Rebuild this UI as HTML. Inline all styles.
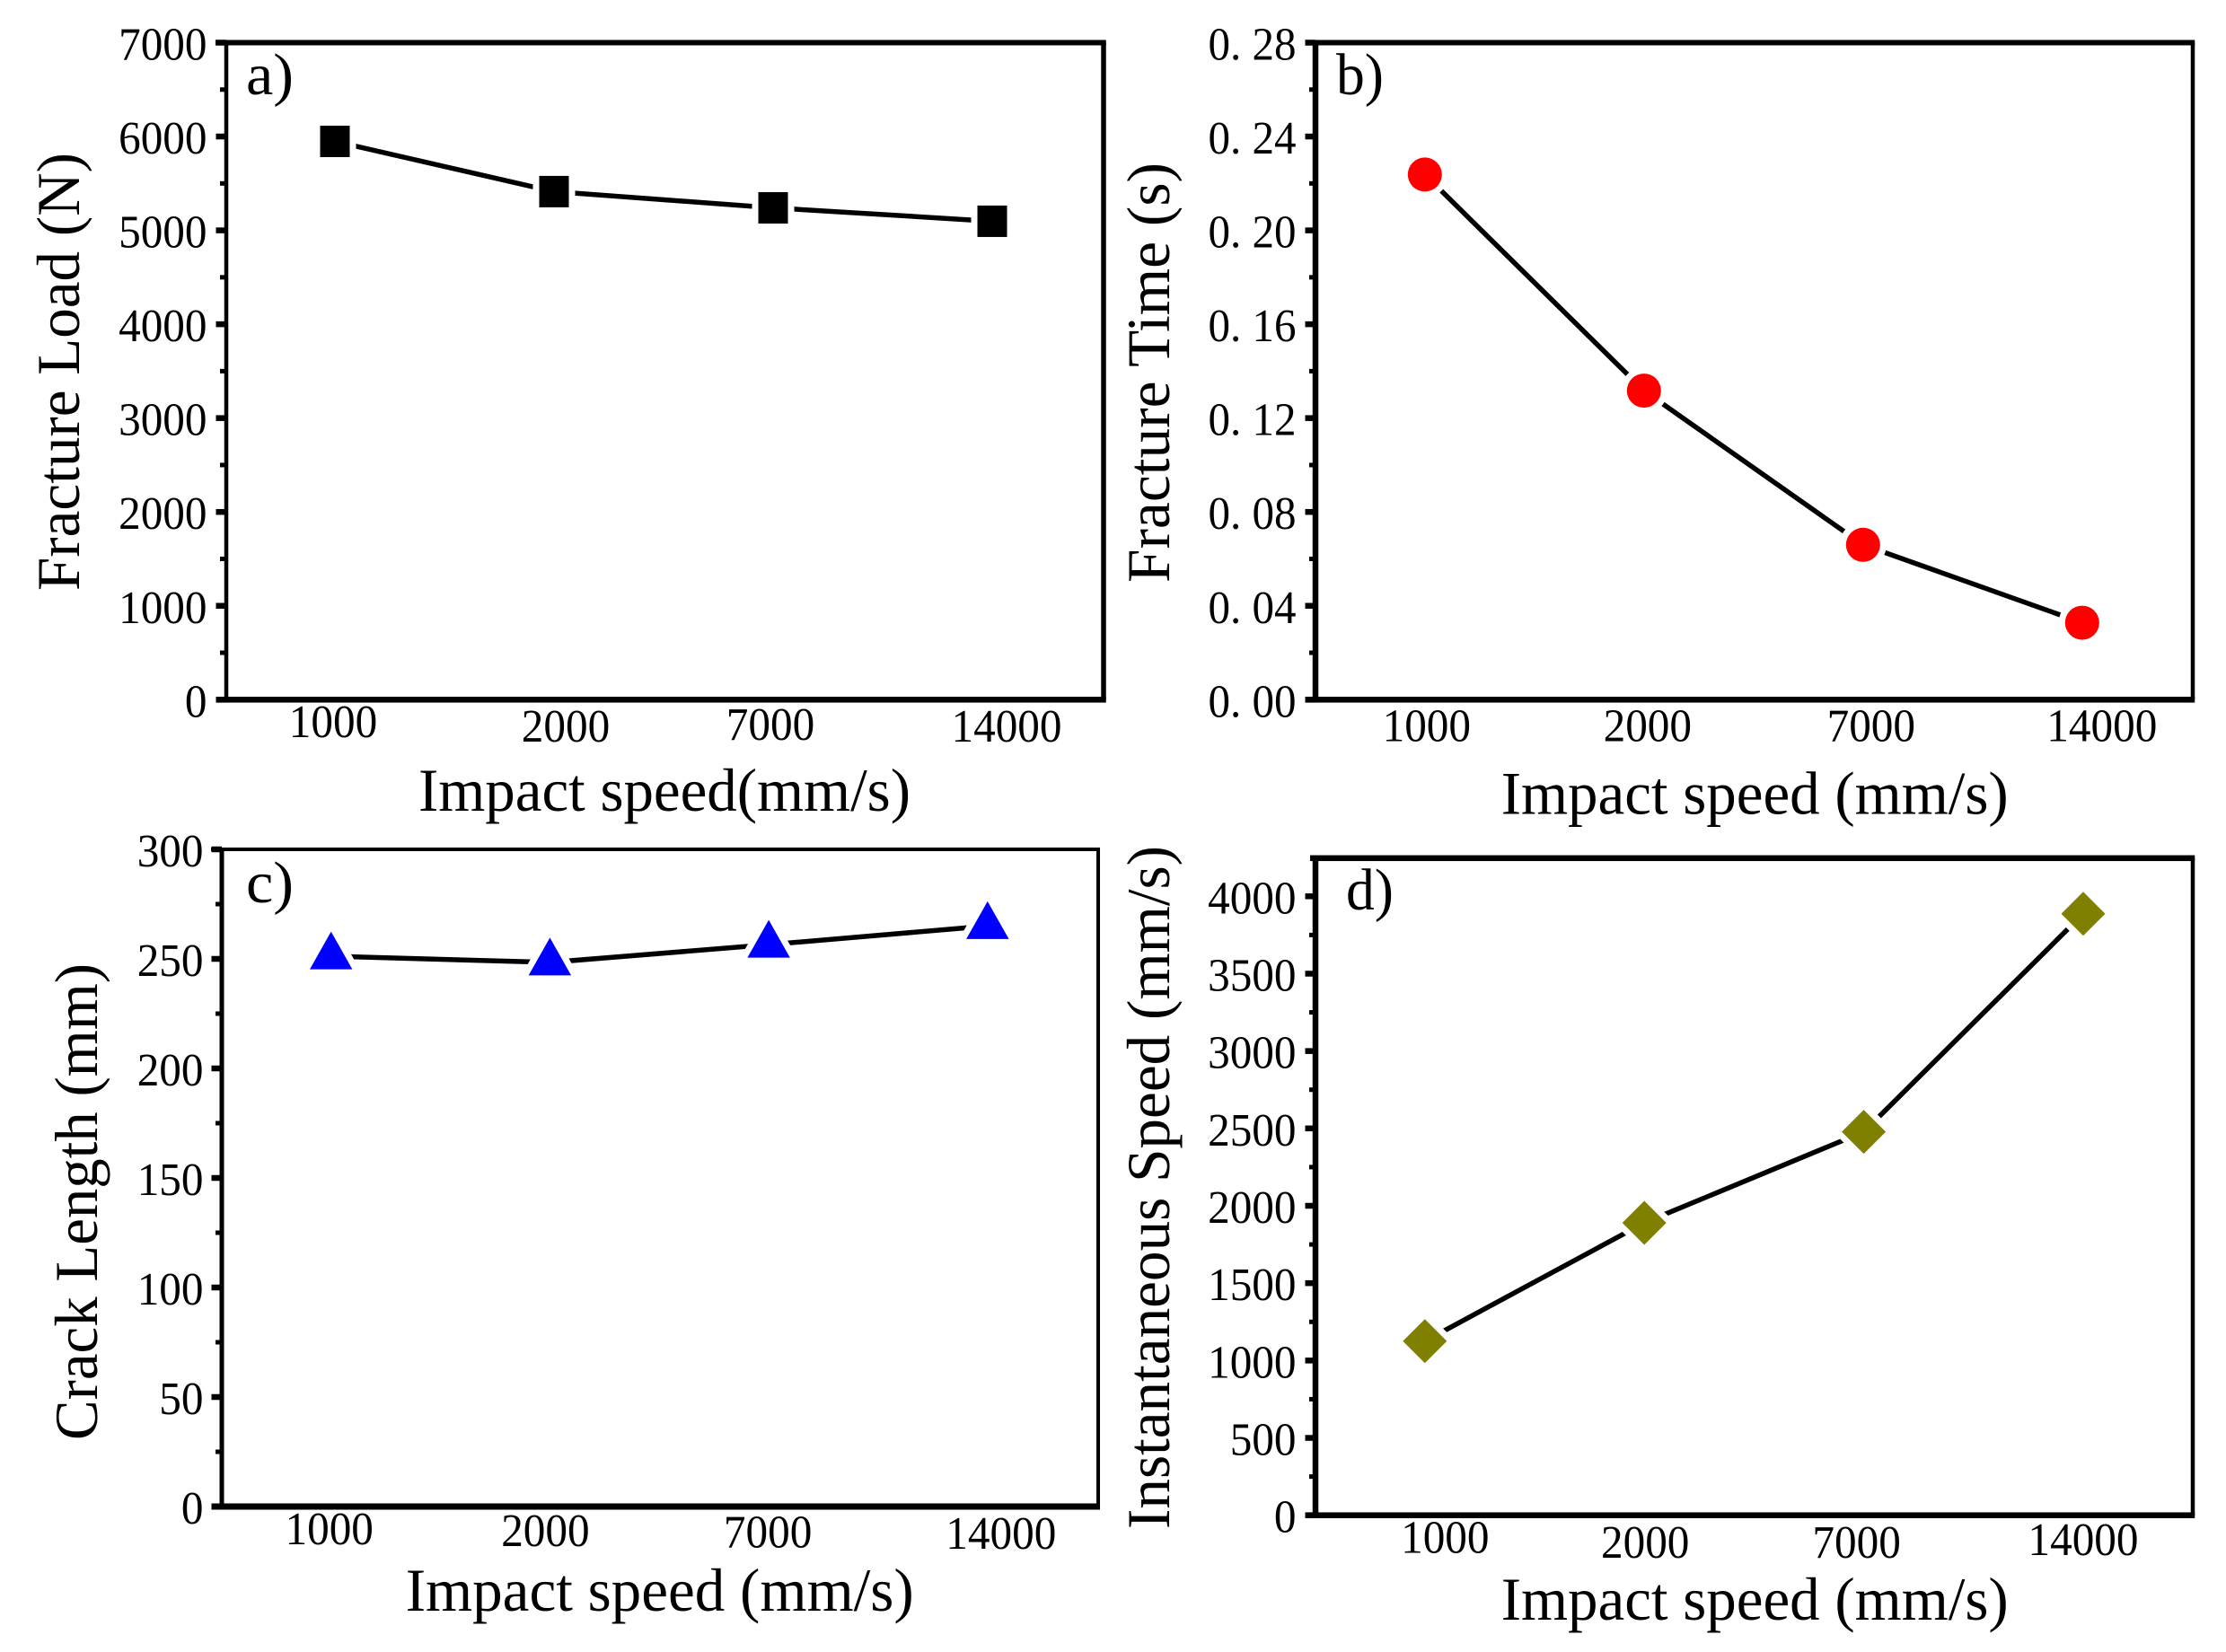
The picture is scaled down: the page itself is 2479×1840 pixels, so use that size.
<!DOCTYPE html>
<html lang="en">
<head>
<meta charset="utf-8">
<title>Impact speed effects on fracture properties</title>
<style>
  html, body { margin: 0; padding: 0; background: #fff; }
  svg { display: block; }
  text { font-family: "Liberation Serif", "Noto Serif CJK SC", serif; fill: #000; }
</style>
</head>
<body>
<svg id="chart" xmlns="http://www.w3.org/2000/svg" width="2479" height="1840" viewBox="0 0 2479 1840">
  <rect x="0" y="0" width="2479" height="1840" fill="#fff"></rect>
</svg>
<script>
// ---- Data ----
const categories = ['1000', '2000', '7000', '14000'];

const fractureLoad = [5948, 5413, 5240, 5097];
const fractureTime = [0.2238, 0.1317, 0.0660, 0.0328];
const crackLength = [251.2, 248.4, 256.5, 265];
const instantaneousSpeed = [1125, 1890, 2478, 3887];

const ticksA = [0, 1000, 2000, 3000, 4000, 5000, 6000, 7000];
const ticksB = [0, 0.04, 0.08, 0.12, 0.16, 0.20, 0.24, 0.28];
const ticksC = [0, 50, 100, 150, 200, 250, 300];
const ticksD = [0, 500, 1000, 1500, 2000, 2500, 3000, 3500, 4000];

const tickLabelsA = ['0', '1000', '2000', '3000', '4000', '5000', '6000', '7000'];
const tickLabelsB = ['0. 00', '0. 04', '0. 08', '0. 12', '0. 16', '0. 20', '0. 24', '0. 28'];
const tickLabelsC = ['0', '50', '100', '150', '200', '250', '300'];
const tickLabelsD = ['0', '500', '1000', '1500', '2000', '2500', '3000', '3500', '4000'];

// ---- Panel layout (pixels and styling only) ----
const panels = [
  { id: 'a', letter: 'a)', values: fractureLoad, ticks: ticksA, labels: tickLabelsA,
    yMax: 7000, left: 252, right: 1229, top: 47.5, bottom: 779.3,
    lw: 4.5, rw: 5.5, tw: 6, bw: 6.5, topExt: 12,
    firstX: 373, stepX: 244, marker: 'square', color: '#000000',
    xOffsets: [-2, 13, -3, 16], xBaselines: [821, 826, 824, 826],
    tickRight: 230.5, xTitle: 'Impact speed(mm/s)', xTitleX: 466, xTitleBase: 903, xTitleLen: 548,
    yTitle: 'Fracture Load (N)', yTitleX: 88, yTitleStart: 658, yTitleLen: 488,
    letterX: 274, letterY: 105 },
  { id: 'b', letter: 'b)', values: fractureTime, ticks: ticksB, labels: tickLabelsB,
    yMax: 0.28, left: 1465, right: 2442, top: 47.5, bottom: 779.3,
    lw: 6.5, rw: 4.5, tw: 6, bw: 6.5, topExt: 11,
    firstX: 1586.8, stepX: 244, marker: 'circle', color: '#ff0000',
    xOffsets: [2, 4, 9, 22], xBaselines: [825.5, 825.5, 825.5, 825.5],
    tickRight: 1443.5, xTitle: 'Impact speed (mm/s)', xTitleX: 1671.7, xTitleBase: 906.5, xTitleLen: 565,
    yTitle: 'Fracture Time (s)', yTitleX: 1302, yTitleStart: 649, yTitleLen: 468,
    letterX: 1488, letterY: 105 },
  { id: 'c', letter: 'c)', values: crackLength, ticks: ticksC, labels: tickLabelsC,
    yMax: 300, left: 247, right: 1223, top: 946, bottom: 1678,
    lw: 5, rw: 4, tw: 4, bw: 7, topExt: 12,
    firstX: 368.7, stepX: 243.7, marker: 'triangle', color: '#0000ff',
    xOffsets: [-2, -5, -1, 15], xBaselines: [1720, 1722, 1723.5, 1725],
    tickRight: 226.5, xTitle: 'Impact speed (mm/s)', xTitleX: 451.7, xTitleBase: 1794, xTitleLen: 566,
    yTitle: 'Crack Length (mm)', yTitleX: 108, yTitleStart: 1604, yTitleLen: 531,
    letterX: 274, letterY: 1005 },
  { id: 'd', letter: 'd)', values: instantaneousSpeed, ticks: ticksD, labels: tickLabelsD,
    yMax: 4246.6, left: 1465, right: 2442, top: 955.8, bottom: 1687.7,
    lw: 6.5, rw: 4.5, tw: 6.5, bw: 6.5, topExt: 6,
    firstX: 1586.8, stepX: 244.4, marker: 'diamond', color: '#808000',
    xOffsets: [22.5, 1, -8, 0], xBaselines: [1729.3, 1735, 1735, 1732],
    tickRight: 1443.5, xTitle: 'Impact speed (mm/s)', xTitleX: 1671.7, xTitleBase: 1804, xTitleLen: 565,
    yTitle: 'Instantaneous Speed (mm/s)', yTitleX: 1302, yTitleStart: 1703, yTitleLen: 761,
    letterX: 1499, letterY: 1013 }
];

const SVG_NS = 'http://www.w3.org/2000/svg';
const root = document.getElementById('chart');

function make(parent, tag, props) {
  const node = document.createElementNS(SVG_NS, tag);
  for (const key of Object.keys(props)) {
    node.setAttribute(key, props[key]);
  }
  parent.appendChild(node);
  return node;
}

function drawMarker(parent, kind, cx, cy, color) {
  const halo = { fill: color, stroke: '#fff', 'stroke-width': 14, 'paint-order': 'stroke' };
  if (kind === 'square') {
    return make(parent, 'rect', Object.assign({ x: cx - 16.5, y: cy - 17.5, width: 33, height: 35 }, halo));
  }
  if (kind === 'circle') {
    return make(parent, 'ellipse', Object.assign({ cx: cx, cy: cy, rx: 19, ry: 19 }, halo));
  }
  if (kind === 'triangle') {
    const pts = [[cx, cy - 27.5], [cx + 23.7, cy + 14.5], [cx - 23.7, cy + 14.5]].map(p => p.join(',')).join(' ');
    return make(parent, 'polygon', Object.assign({ points: pts }, halo));
  }
  const pts = [[cx, cy - 24.5], [cx + 24.5, cy], [cx, cy + 24.5], [cx - 24.5, cy]].map(p => p.join(',')).join(' ');
  return make(parent, 'polygon', Object.assign({ points: pts }, halo));
}

function drawPanel(p) {
  const yScale = v => p.bottom - (v / p.yMax) * (p.bottom - p.top);
  const xScale = i => p.firstX + i * p.stepX;

  const g = make(root, 'g', {});
  
  

  // Frame
  const frameTop = make(g, 'rect', { x: p.left - p.topExt, y: p.top - p.tw / 2, width: p.right - p.left + p.topExt + p.rw / 2, height: p.tw, fill: '#000' });
  
  
  const frameBottom = make(g, 'rect', { x: p.left - 11.5, y: p.bottom - p.bw / 2, width: p.right - p.left + 11.5 + p.rw / 2, height: p.bw, fill: '#000' });
  
  
  const frameLeft = make(g, 'rect', { x: p.left - p.lw / 2, y: p.top, width: p.lw, height: p.bottom - p.top, fill: '#000' });
  
  
  const frameRight = make(g, 'rect', { x: p.right - p.rw / 2, y: p.top, width: p.rw, height: p.bottom - p.top, fill: '#000' });
  
  

  // Y ticks and labels
  p.ticks.forEach((t, i) => {
    const y = yScale(t);
    const major = make(g, 'rect', { x: p.left - 11.5, y: y - 3.25, width: 11.5, height: 6.5, fill: '#000' });
    
    

    const label = make(g, 'text', {
      x: p.tickRight, y: y + 19, 'font-size': 52, 'text-anchor': 'end',
      textLength: p.labels[i].length === 5 ? 98 : p.labels[i].length * 24.6,
      lengthAdjust: 'spacingAndGlyphs'
    });
    label.textContent = p.labels[i];
    
    

    if (i < p.ticks.length - 1) {
      const minorY = yScale((t + p.ticks[i + 1]) / 2);
      const minor = make(g, 'rect', { x: p.left - 7, y: minorY - 2.5, width: 7, height: 5, fill: '#000' });
      
      
    }
  });

  // X category labels
  categories.forEach((c, i) => {
    const label = make(g, 'text', {
      x: xScale(i) + p.xOffsets[i], y: p.xBaselines[i], 'font-size': 52, 'text-anchor': 'middle',
      textLength: c.length * 24.6, lengthAdjust: 'spacingAndGlyphs'
    });
    label.textContent = c;
    
    
  });

  // Axis titles
  const xTitle = make(g, 'text', {
    x: p.xTitleX, y: p.xTitleBase, 'font-size': 68,
    textLength: p.xTitleLen, lengthAdjust: 'spacingAndGlyphs'
  });
  xTitle.textContent = p.xTitle;
  
  

  const yTitle = make(g, 'text', {
    x: 0, y: 0, 'font-size': 68,
    transform: 'translate(' + p.yTitleX + ' ' + p.yTitleStart + ') rotate(-90)',
    textLength: p.yTitleLen, lengthAdjust: 'spacingAndGlyphs'
  });
  yTitle.textContent = p.yTitle;
  
  

  // Panel letter
  const letter = make(g, 'text', {
    x: p.letterX, y: p.letterY, 'font-size': 66,
    textLength: 53, lengthAdjust: 'spacingAndGlyphs'
  });
  letter.textContent = p.letter;
  
  

  // Series
  const series = make(g, 'g', {});
  
  

  const pts = p.values.map((v, i) => xScale(i) + ',' + yScale(v)).join(' ');
  const line = make(series, 'polyline', { points: pts, fill: 'none', stroke: '#000', 'stroke-width': 5.5, 'stroke-linejoin': 'round' });
  
  

  p.values.forEach((v, i) => {
    const m = drawMarker(series, p.marker, xScale(i), yScale(v), p.color);
    
    
  });
}

panels.forEach(drawPanel);
</script>
</body>
</html>
